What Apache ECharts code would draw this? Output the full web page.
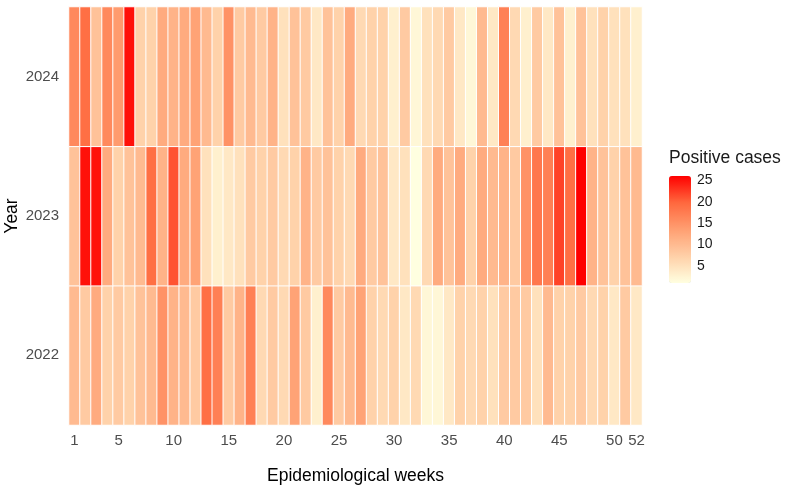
<!DOCTYPE html>
<html>
<head>
<meta charset="utf-8">
<script src="https://cdn.jsdelivr.net/npm/echarts@6/dist/echarts.min.js"></script>
<style>
  html, body { margin: 0; padding: 0; background: #fff; }
  #chart { width: 790px; height: 492px; }
</style>
</head>
<body>
<div id="chart"></div>
<script>
const years = ['2022', '2023', '2024']
const weeks = Array.from({ length: 52 }, (_, i) => String(i + 1))
const weekLabels = ['1', '5', '10', '15', '20', '25', '30', '35', '40', '45', '50', '52']
const legendTicks = [5, 10, 15, 20, 25]

const cases2022 = [10, 8, 12, 7, 8, 7, 9, 10, 15, 11, 10, 8, 19, 17, 8, 11, 17, 6, 8, 6,
  13, 8, 3, 16, 8, 10, 13, 7, 6, 7, 4, 6, 2, 2, 4, 7, 6, 7, 5, 8,
  8, 8, 5, 10, 7, 7, 8, 6, 7, 4, 8, 4]
const cases2023 = [9, 25, 25, 12, 7, 9, 10, 19, 11, 21, 12, 13, 5, 3, 4, 5, 8, 7, 8, 6,
  7, 11, 8, 9, 7, 6, 12, 8, 9, 4, 5, 1, 6, 12, 9, 12, 7, 12, 10, 11,
  8, 15, 18, 17, 22, 19, 26, 11, 9, 7, 9, 10]
const cases2024 = [16, 19, 9, 16, 14, 25, 7, 7, 12, 11, 12, 13, 10, 7, 15, 8, 10, 8, 11, 5,
  9, 8, 4, 9, 7, 12, 6, 7, 7, 3, 8, 2, 5, 6, 8, 4, 2, 10, 4, 17,
  6, 3, 8, 4, 9, 3, 9, 5, 7, 5, 5, 3]

const allCases = [cases2022, cases2023, cases2024]
const cells = []
allCases.forEach((row, yi) => {
  row.forEach((v, wi) => cells.push([wi, yi, v]))
})

// low -> high, stops taken from a Lab-space ramp (lightyellow -> red)
const palette = ['#FFFFE0', '#FFD0A8', '#FF9F72', '#FF683E', '#FF0000']

const font = 'Liberation Sans, Arial, sans-serif'
const chart = echarts.init(document.getElementById('chart'))

chart.setOption({
  backgroundColor: '#fff',
  animation: false,
  title: {
    text: 'Positive cases',
    left: 669,
    top: 149,
    padding: 0,
    textStyle: { fontFamily: font, fontSize: 17.5, fontWeight: 'normal', color: '#1a1a1a' }
  },
  grid: [
    { left: 69, top: 7, width: 573, height: 418, outerBoundsMode: 'none' },
    { left: 669, top: 176, width: 22, height: 107, outerBoundsMode: 'none' }
  ],
  xAxis: [
    {
      type: 'category',
      data: weeks,
      gridIndex: 0,
      axisLine: { show: false },
      axisTick: { show: false },
      splitLine: { show: false },
      axisLabel: {
        interval: (idx, val) => weekLabels.includes(val),
        color: '#4d4d4d',
        fontSize: 15,
        fontFamily: font,
        margin: 8
      },
      name: 'Epidemiological weeks',
      nameLocation: 'middle',
      nameGap: 42,
      nameMoveOverlap: false,
      nameTextStyle: { fontFamily: font, fontSize: 17.5, color: '#000' }
    },
    { type: 'value', gridIndex: 1, show: false, min: 0, max: 1 }
  ],
  yAxis: [
    {
      type: 'category',
      data: years,
      gridIndex: 0,
      axisLine: { show: false },
      axisTick: { show: false },
      splitLine: { show: false },
      axisLabel: { color: '#4d4d4d', fontSize: 15, fontFamily: font, margin: 10 },
      name: 'Year',
      nameLocation: 'middle',
      nameGap: 48,
      nameMoveOverlap: false,
      nameTextStyle: { fontFamily: font, fontSize: 17.5, color: '#000' }
    },
    {
      type: 'value',
      gridIndex: 1,
      min: 1,
      max: 26,
      position: 'right',
      axisLine: { show: false },
      splitLine: { show: false },
      axisTick: {
        show: true,
        inside: true,
        length: 4,
        customValues: legendTicks,
        lineStyle: { color: '#fff', width: 1 }
      },
      axisLabel: {
        customValues: legendTicks,
        color: '#1a1a1a',
        fontSize: 14,
        fontFamily: font,
        margin: 6
      }
    },
    {
      type: 'value',
      gridIndex: 1,
      min: 1,
      max: 26,
      position: 'left',
      axisLine: { show: false },
      splitLine: { show: false },
      axisLabel: { show: false },
      axisTick: {
        show: true,
        inside: true,
        length: 4,
        customValues: legendTicks,
        lineStyle: { color: '#fff', width: 1 }
      }
    }
  ],
  visualMap: {
    type: 'continuous',
    min: 1,
    max: 26,
    seriesIndex: 0,
    orient: 'vertical',
    left: 669,
    top: 176,
    padding: 0,
    itemWidth: 22,
    itemHeight: 107,
    calculable: false,
    text: null,
    inRange: { color: palette },
    z: 1
  },
  series: [
    {
      type: 'heatmap',
      xAxisIndex: 0,
      yAxisIndex: 0,
      data: cells,
      itemStyle: { borderColor: '#fff', borderWidth: 1 },
      emphasis: { disabled: true }
    }
  ]
})
</script>
</body>
</html>
